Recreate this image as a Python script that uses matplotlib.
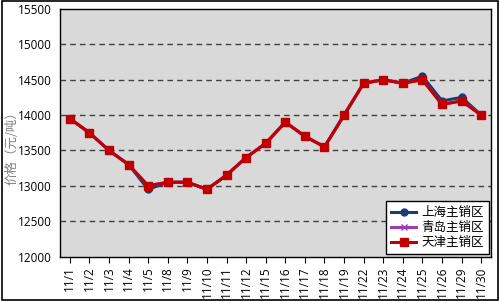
import matplotlib.pyplot as plt
from matplotlib.patches import Rectangle

dates = ["11/1", "11/2", "11/3", "11/4", "11/5", "11/8", "11/9", "11/10", "11/11",
         "11/12", "11/15", "11/16", "11/17", "11/18", "11/19", "11/22", "11/23",
         "11/24", "11/25", "11/26", "11/29", "11/30"]
shanghai = [13950, 13750, 13500, 13300, 12950, 13050, 13050, 12950, 13150, 13400, 13600,
            13900, 13700, 13550, 14000, 14450, 14500, 14450, 14550, 14200, 14250, 14000]
qingdao = [13950, 13750, 13500, 13300, 13000, 13050, 13050, 12950, 13150, 13400, 13600,
           13900, 13700, 13550, 14000, 14450, 14500, 14450, 14500, 14150, 14200, 14000]
tianjin = [13950, 13750, 13500, 13300, 13000, 13050, 13050, 12950, 13150, 13400, 13600,
           13900, 13700, 13550, 14000, 14450, 14500, 14450, 14500, 14150, 14200, 14000]

plt.rcParams['font.family'] = ['Open Sans', 'Noto Sans CJK SC', 'DejaVu Sans']

fig = plt.figure(figsize=(5.0, 3.01), dpi=100)
ax = fig.add_axes([60 / 500, 1 - 256.5 / 301, 431 / 500, 247.5 / 301])
ax.set_facecolor("#d9d9d9")

x = list(range(len(dates)))
ax.plot(x, shanghai, color="#1f3a75", lw=2.2, marker="o", ms=5, label="上海主销区")
ax.plot(x, qingdao, color="#9b3fb5", lw=2.2, marker="x", ms=5, label="青岛主销区")
ax.plot(x, tianjin, color="#c00000", lw=2.2, marker="s", ms=5.5, label="天津主销区")

ax.set_xlim(-0.5, len(dates) - 0.5)
ax.set_ylim(12000, 15500)
ax.set_yticks(range(12000, 15501, 500))
ax.set_xticks(x)
ax.set_xticklabels(dates, rotation=90, fontsize=8.5)
ax.tick_params(axis="y", labelsize=8.5, length=0, pad=6)
ax.tick_params(axis="x", length=4, direction="out", pad=3)
for y in range(12500, 15001, 500):
    ax.axhline(y, color="#404040", lw=1, ls=(0, (4, 3)), zorder=1)
for s in ax.spines.values():
    s.set_color("black")
    s.set_linewidth(1)

fig.text(12 / 500, 1 - 145 / 301, "价格（元/吨）", color="#808080", fontsize=9,
         rotation=90, ha="center", va="center",
         family=['Noto Sans CJK SC', 'DejaVu Sans'])

leg = ax.legend(loc="lower right", frameon=True, fancybox=False,
                borderaxespad=0.2, handlelength=2.0, handletextpad=0.4,
                labelspacing=0.15,
                prop={'family': ['Noto Sans CJK SC'], 'size': 9})
leg.get_frame().set_edgecolor("black")
leg.get_frame().set_facecolor("white")
leg.get_frame().set_alpha(1)

fig.patches.append(Rectangle((0.003, 0.004), 0.993, 0.992, transform=fig.transFigure,
                             fill=False, edgecolor="black", lw=1.2))

fig.savefig("out.png", dpi=100)
